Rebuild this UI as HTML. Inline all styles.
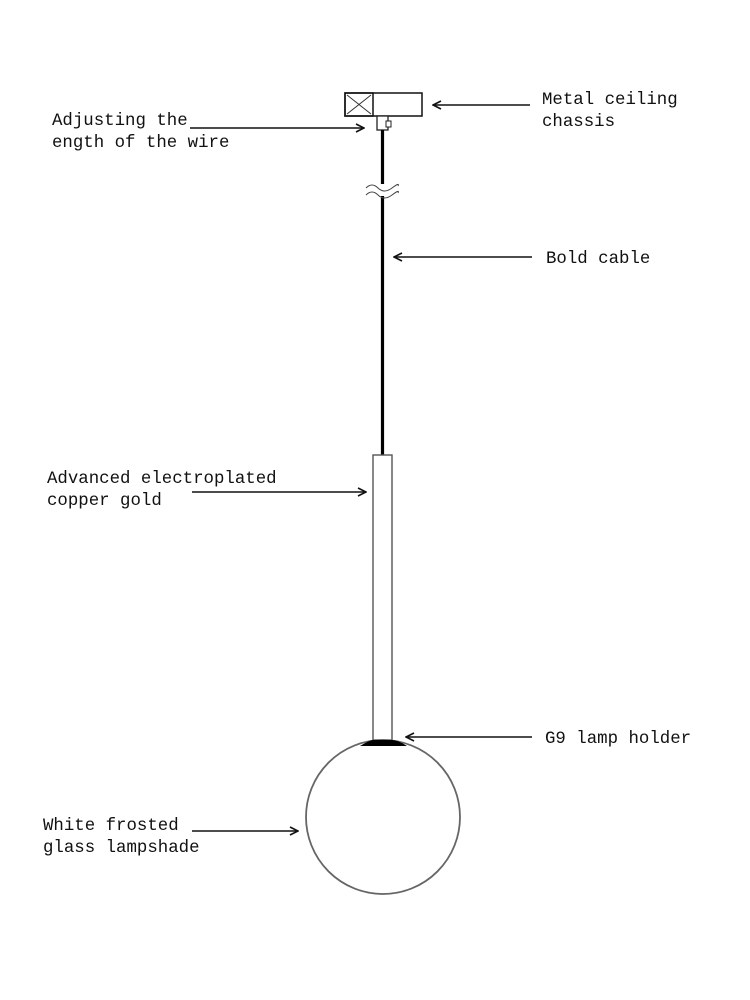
<!DOCTYPE html>
<html><head><meta charset="utf-8"><style>
html,body{margin:0;padding:0;background:#fff;}
svg{display:block;}
text{font-family:"Liberation Mono",monospace;font-size:17.4px;fill:#111;}
</style></head><body>
<svg width="750" height="1000" viewBox="0 0 750 1000" xmlns="http://www.w3.org/2000/svg">
<defs>
<marker id="a" viewBox="0 0 10 10" refX="9" refY="5" markerWidth="10" markerHeight="10" orient="auto-start-reverse" markerUnits="userSpaceOnUse">
<path d="M1 1 L9 5 L1 9" fill="none" stroke="#111" stroke-width="1.6"/>
</marker>
</defs>
<rect x="345" y="93" width="77" height="23" fill="#fff" stroke="#111" stroke-width="1.5"/>
<rect x="345" y="93" width="28" height="23" fill="none" stroke="#111" stroke-width="1.5"/>
<path d="M347 95 L371 114 M371 95 L347 114" stroke="#333" stroke-width="1"/>
<rect x="377" y="116" width="11" height="14" fill="#fff" stroke="#222" stroke-width="1.3"/>
<rect x="386" y="121" width="5" height="6" fill="#fff" stroke="#222" stroke-width="1"/>
<line x1="382.5" y1="130" x2="382.5" y2="455" stroke="#000" stroke-width="3.2"/>
<rect x="370" y="184" width="26" height="12" fill="#fff"/>
<path d="M366 188 Q372 182 378 188 T392 188 T398 186" fill="none" stroke="#444" stroke-width="1"/>
<path d="M366 195 Q372 189 378 195 T392 195 T398 193" fill="none" stroke="#444" stroke-width="1"/>
<rect x="373" y="455" width="19" height="285" fill="#fff" stroke="#555" stroke-width="1.4"/>
<circle cx="383" cy="817" r="77" fill="#fff" stroke="#666" stroke-width="1.8"/>
<path d="M360 746 Q370 740 373 740 L392 740 Q398 740 407 746 Z" fill="#000"/>
<g stroke="#111" stroke-width="1.6" fill="none" marker-end="url(#a)">
<line x1="190" y1="128" x2="364" y2="128"/>
<line x1="530" y1="105" x2="433" y2="105"/>
<line x1="532" y1="257" x2="394" y2="257"/>
<line x1="192" y1="492" x2="366" y2="492"/>
<line x1="532" y1="737" x2="406" y2="737"/>
<line x1="192" y1="831" x2="298" y2="831"/>
</g>
<text x="52" y="125">Adjusting the</text>
<text x="52" y="147">ength of the wire</text>
<text x="542" y="104">Metal ceiling</text>
<text x="542" y="126">chassis</text>
<text x="546" y="263">Bold cable</text>
<text x="47" y="483">Advanced electroplated</text>
<text x="47" y="505">copper gold</text>
<text x="545" y="743">G9 lamp holder</text>
<text x="43" y="830">White frosted</text>
<text x="43" y="852">glass lampshade</text>
</svg>
</body></html>
